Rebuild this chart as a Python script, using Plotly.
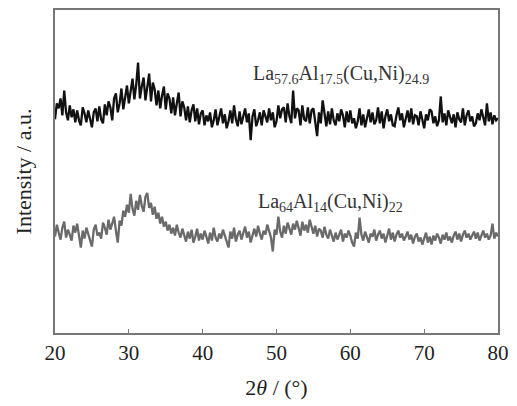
import numpy as np
import plotly.graph_objects as go

two_theta_start = 20.0
two_theta_step = 0.25

# La57.6Al17.5(Cu,Ni)24.9 (upper, black) — 4 readings per degree, 20..80
black_vals = [
    215, 231, 226, 236,
    219, 244, 222, 214,
    229, 217, 225, 212,
    224, 214, 209, 227,
    221, 212, 224, 216,
    207, 222, 226, 213,
    228, 215, 211, 230,
    219, 233, 227, 214,
    236, 241, 222, 231,
    246, 225, 238, 249,
    231, 244, 256, 235,
    250, 272, 236, 248,
    257, 234, 249, 261,
    233, 252, 245, 229,
    244, 226, 239, 248,
    225, 241, 236, 221,
    237, 219, 231, 242,
    218, 233, 227, 214,
    228, 212, 224, 230,
    213, 226, 210, 221,
    224, 209, 219, 213,
    222, 207, 214, 225,
    209, 219, 226, 211,
    220, 206, 213, 224,
    211, 229, 215, 208,
    223, 210, 219, 226,
    212, 221, 194, 218,
    225, 208, 214, 222,
    209, 224, 218, 212,
    226, 214, 222, 207,
    213, 229, 216, 225,
    227, 212, 231, 218,
    211, 244, 216, 226,
    224, 209, 229, 215,
    213, 227, 211, 224,
    226, 214, 198, 222,
    211, 234, 219, 208,
    223, 210, 226, 214,
    209, 221, 213, 225,
    219, 207, 223, 212,
    224, 211, 216, 206,
    213, 226, 209, 220,
    207, 218, 225, 212,
    222, 210, 214, 227,
    211, 223, 206, 218,
    225, 213, 220, 209,
    208, 219, 227, 214,
    221, 207, 215, 224,
    212, 226, 210, 219,
    218, 209, 223, 213,
    206, 220, 214, 225,
    223, 211, 218, 208,
    214, 238, 212, 221,
    209, 224, 216, 211,
    220, 207, 222, 215,
    212, 226, 209, 219,
    224, 213, 218, 208,
    211, 221, 214, 225,
    217, 209, 231, 213,
    222, 210, 219, 214,
    216,
]

# La64Al14(Cu,Ni)22 (lower, gray)
gray_vals = [
    97, 109, 101, 94,
    106, 112, 96, 104,
    99, 93, 108, 101,
    110, 97, 86, 103,
    95, 106, 100, 92,
    87, 104, 109, 98,
    101, 95, 111, 106,
    99, 114, 104, 110,
    117, 103, 91, 113,
    108, 123, 117, 129,
    121, 140, 125, 118,
    133, 124, 139, 128,
    122, 137, 141, 126,
    131, 119, 127, 115,
    121, 110, 117, 107,
    112, 103, 109, 100,
    106, 98, 109, 101,
    96, 105, 99, 92,
    102, 95, 104, 91,
    97, 105, 93, 100,
    94, 103, 97, 90,
    101, 93, 106, 96,
    92, 100, 95, 104,
    98, 91, 86, 102,
    95, 106, 92, 99,
    103, 94, 100, 107,
    96, 102, 91, 99,
    105, 97, 108, 100,
    94, 103, 99, 109,
    101, 96, 82, 104,
    99, 117, 102, 96,
    108, 100, 111, 104,
    99, 110, 104, 113,
    106, 98, 112, 103,
    109, 101, 114, 106,
    100, 108, 97, 105,
    103, 96, 107, 99,
    95, 104, 98, 92,
    101, 94, 99, 104,
    92, 100, 96, 103,
    98, 91, 87, 101,
    95, 116, 99, 93,
    102, 96, 91, 100,
    97, 104, 93, 99,
    103, 95, 100, 91,
    98, 105, 94, 101,
    92, 99, 103, 96,
    100, 93, 97, 102,
    94, 99, 90, 97,
    100, 92, 96, 89,
    95, 101, 91, 97,
    89, 98, 93, 100,
    96, 90, 99, 94,
    101, 93, 97, 91,
    98, 102, 94, 100,
    92, 99, 103, 96,
    100, 94, 98, 102,
    95, 101, 93, 99,
    103, 96, 100, 94,
    98, 110, 95, 101,
    97,
]

x_ticks = [20, 30, 40, 50, 60, 70, 80]
label_black = "La<sub>57.6</sub>Al<sub>17.5</sub>(Cu,Ni)<sub>24.9</sub>"
label_gray = "La<sub>64</sub>Al<sub>14</sub>(Cu,Ni)<sub>22</sub>"

x_black = two_theta_start + two_theta_step * np.arange(len(black_vals))
x_gray = two_theta_start + two_theta_step * np.arange(len(gray_vals))

font_family = "Liberation Serif, Times New Roman, serif"

fig = go.Figure()
fig.add_trace(go.Scatter(x=x_black, y=black_vals, mode="lines",
                         line=dict(color="#111111", width=2.3), showlegend=False))
fig.add_trace(go.Scatter(x=x_gray, y=gray_vals, mode="lines",
                         line=dict(color="#6a6a6a", width=2.3), showlegend=False))

fig.add_annotation(x=46.5, y=260, xref="x", yref="y", text=label_black,
                   showarrow=False, xanchor="left", yanchor="middle",
                   font=dict(family=font_family, size=20, color="#333333"))
fig.add_annotation(x=47.2, y=131, xref="x", yref="y", text=label_gray,
                   showarrow=False, xanchor="left", yanchor="middle",
                   font=dict(family=font_family, size=20, color="#333333"))

fig.update_layout(
    width=517, height=406,
    margin=dict(l=55, r=18, t=8, b=73),
    plot_bgcolor="white", paper_bgcolor="white",
    font=dict(family=font_family, size=19, color="#222222"),
    xaxis=dict(range=[20, 80], tickvals=x_ticks, ticks="inside", ticklen=4,
               tickcolor="#777777", tickwidth=1.2,
               tickfont=dict(family=font_family, size=21, color="#222222"),
               showline=True, linecolor="#777777", linewidth=1.5, mirror=True,
               showgrid=False, zeroline=False,
               title=dict(text="2<i>θ</i> / (°)", standoff=16,
                          font=dict(family=font_family, size=22, color="#222222"))),
    yaxis=dict(range=[0, 325], showticklabels=False, ticks="",
               showline=True, linecolor="#777777", linewidth=1.5, mirror=True,
               showgrid=False, zeroline=False,
               title=dict(text="Intensity / a.u.", standoff=16,
                          font=dict(family=font_family, size=22, color="#222222"))),
)

fig.write_html("out.html", config={"displayModeBar": False},
               post_script="document.body.style.margin='0px';")
